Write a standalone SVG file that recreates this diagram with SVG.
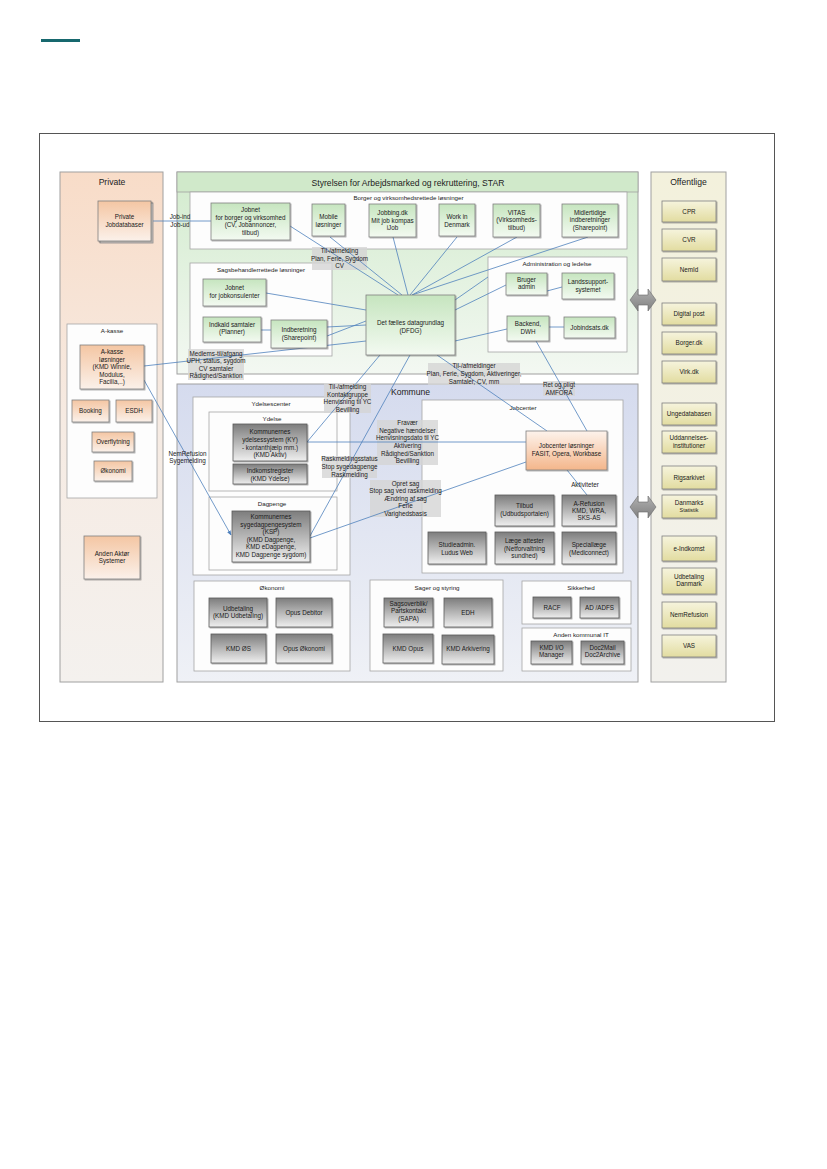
<svg xmlns="http://www.w3.org/2000/svg" width="827" height="1169" viewBox="0 0 827 1169">
<defs>
<linearGradient id="gGreen" x1="0" y1="0" x2="0" y2="1"><stop offset="0" stop-color="#c6e5bf"/><stop offset="1" stop-color="#f3faf1"/></linearGradient>
<linearGradient id="gPeach" x1="0" y1="0" x2="0" y2="1"><stop offset="0" stop-color="#f4c6a3"/><stop offset="1" stop-color="#fbf1ea"/></linearGradient>
<linearGradient id="gPeachR" x1="0" y1="0" x2="0" y2="1"><stop offset="0" stop-color="#fdf3ec"/><stop offset="1" stop-color="#f4b68b"/></linearGradient>
<linearGradient id="gGray" x1="0" y1="0" x2="0" y2="1"><stop offset="0" stop-color="#7d7d7d"/><stop offset="1" stop-color="#efefef"/></linearGradient>
<linearGradient id="gYellow" x1="0" y1="0" x2="0" y2="1"><stop offset="0" stop-color="#f6f4dd"/><stop offset="1" stop-color="#e2dca0"/></linearGradient>
<linearGradient id="gPriv" x1="0" y1="0" x2="0" y2="1"><stop offset="0" stop-color="#f8dcc8"/><stop offset="0.5" stop-color="#f6ebe3"/><stop offset="1" stop-color="#f4f1ee"/></linearGradient>
<linearGradient id="gStar" x1="0" y1="0" x2="0" y2="1"><stop offset="0" stop-color="#d2ebcd"/><stop offset="1" stop-color="#f3f8f2"/></linearGradient>
<linearGradient id="gKom" x1="0" y1="0" x2="0" y2="1"><stop offset="0" stop-color="#d5dbee"/><stop offset="1" stop-color="#eff1f6"/></linearGradient>
<linearGradient id="gOff" x1="0" y1="0" x2="0" y2="1"><stop offset="0" stop-color="#f3f1dc"/><stop offset="1" stop-color="#f2f1ed"/></linearGradient>
<linearGradient id="gArrow" x1="0" y1="0" x2="0" y2="1"><stop offset="0" stop-color="#b0b0b0"/><stop offset="1" stop-color="#808080"/></linearGradient>
<filter id="sh" x="-20%" y="-20%" width="140%" height="140%"><feDropShadow dx="1" dy="1" stdDeviation="0.6" flood-color="#000" flood-opacity="0.35"/></filter>
<marker id="arr" viewBox="0 0 10 10" refX="9" refY="5" markerWidth="6" markerHeight="6" orient="auto"><path d="M0,1 L10,5 L0,9 z" fill="#4f81bd"/></marker>
</defs>
<style>
text{font-family:"Liberation Sans",Arial,sans-serif;fill:#1a1a1a;}
.t{font-size:6.3px;text-anchor:middle;}
.g{font-size:6.2px;text-anchor:middle;fill:#222;}
.p{font-size:8.6px;text-anchor:middle;fill:#222;}
.l{font-size:6.3px;text-anchor:middle;fill:#222;}
.panel{stroke:#a0a0a0;stroke-width:1;}
.grp{fill:#fdfdfd;stroke:#a6a6a6;stroke-width:0.8;}
.ng{fill:url(#gGreen);stroke:#7f7f7f;stroke-width:0.8;filter:url(#sh);}
.np{fill:url(#gPeach);stroke:#7f7f7f;stroke-width:0.8;filter:url(#sh);}
.npr{fill:url(#gPeachR);stroke:#7f7f7f;stroke-width:0.8;filter:url(#sh);}
.nk{fill:url(#gGray);stroke:#5a5a5a;stroke-width:0.8;filter:url(#sh);}
.ny{fill:url(#gYellow);stroke:#7f7f7f;stroke-width:0.8;filter:url(#sh);}
.lb{fill:#d4d4d4;fill-opacity:0.8;}
.c{stroke:#4f81bd;stroke-width:0.8;fill:none;}
.ba{fill:url(#gArrow);stroke:#6a6a6a;stroke-width:0.6;}
</style>
<rect width="827" height="1169" fill="#ffffff"/>
<rect x="41" y="39" width="39" height="3" fill="#17686e"/>
<rect x="39.5" y="133.5" width="735" height="588" fill="#ffffff" stroke="#555555" stroke-width="1"/>

<!-- Panels -->
<g id="panel-private"><rect class="panel" x="60" y="172" width="103" height="510" fill="url(#gPriv)"/><text class="p" x="112" y="185">Private</text></g>
<g id="panel-star"><rect class="panel" x="177" y="172" width="461" height="202" fill="url(#gStar)"/><rect x="177" y="172" width="461" height="20" fill="#d0e9ca" stroke="#a0a0a0" stroke-width="0.8"/><text class="p" x="408" y="185.5">Styrelsen for Arbejdsmarked og rekruttering, STAR</text></g>
<g id="panel-kommune"><rect class="panel" x="177" y="384" width="461" height="298" fill="url(#gKom)"/><text class="p" x="410.5" y="395">Kommune</text></g>
<g id="panel-offentlige"><rect class="panel" x="651" y="172" width="75" height="510" fill="url(#gOff)"/><text class="p" x="688.5" y="185">Offentlige</text></g>

<!-- Group boxes -->
<g id="grp-borger"><rect class="grp" x="190" y="192" width="437" height="57"/><text class="g" x="408.5" y="200">Borger og virksomhedsrettede løsninger</text></g>
<g id="grp-sagsbeh"><rect class="grp" x="190" y="263" width="142" height="93"/><text class="g" x="261" y="272">Sagsbehandlerrettede løsninger</text></g>
<g id="grp-admin"><rect class="grp" x="488" y="257" width="139" height="95"/><text class="g" x="557" y="266">Administration og ledelse</text></g>
<g id="grp-akasse"><rect class="grp" x="67" y="324" width="90" height="174"/><text class="g" x="112" y="333">A-kasse</text></g>
<g id="grp-ydelsescenter"><rect class="grp" x="193" y="397" width="157" height="178"/><text class="g" x="271" y="406">Ydelsescenter</text></g>
<g id="grp-ydelse"><rect class="grp" x="209" y="412" width="128" height="79"/><text class="g" x="272" y="421">Ydelse</text></g>
<g id="grp-dagpenge"><rect class="grp" x="209" y="497" width="128" height="73"/><text class="g" x="272" y="506">Dagpenge</text></g>
<g id="grp-jobcenter"><rect class="grp" x="422" y="400" width="201" height="173"/><text class="g" x="523" y="410">Jobcenter</text></g>
<g id="grp-okonomi"><rect class="grp" x="194" y="581" width="156" height="90"/><text class="g" x="272" y="590">Økonomi</text></g>
<g id="grp-sager"><rect class="grp" x="370" y="580" width="133" height="91"/><text class="g" x="437" y="590">Sager og styring</text></g>
<g id="grp-sikkerhed"><rect class="grp" x="522" y="581" width="109" height="43"/><text class="g" x="581" y="590">Sikkerhed</text></g>
<g id="grp-andenit"><rect class="grp" x="522" y="628" width="109" height="43"/><text class="g" x="581" y="637">Anden kommunal IT</text></g>

<!-- Label backgrounds -->
<g id="label-boxes">
<rect class="lb" x="312" y="247" width="55" height="23"/>
<rect class="lb" x="188" y="349" width="56" height="31"/>
<rect class="lb" x="428" y="363" width="92" height="22"/>
<rect class="lb" x="324" y="383" width="47" height="30"/>
<rect class="lb" x="377" y="420" width="61" height="45"/>
<rect class="lb" x="322" y="456" width="55" height="22"/>
<rect class="lb" x="370" y="480" width="71" height="37"/>
<rect class="lb" x="543" y="381" width="32" height="15"/>
</g>

<!-- Connectors -->
<g id="connectors">
<line class="c" x1="151" y1="221" x2="211" y2="221"/>
<line class="c" x1="290" y1="226" x2="398" y2="295"/>
<line class="c" x1="330" y1="237" x2="402" y2="295"/>
<line class="c" x1="393" y1="237" x2="408" y2="295"/>
<line class="c" x1="457" y1="237" x2="410" y2="295"/>
<line class="c" x1="517" y1="237" x2="412" y2="295"/>
<line class="c" x1="588" y1="237" x2="412" y2="295"/>
<line class="c" x1="488" y1="277" x2="455" y2="300"/>
<line class="c" x1="506" y1="285" x2="455" y2="310"/>
<line class="c" x1="507" y1="329" x2="455" y2="341"/>
<line class="c" x1="547" y1="291" x2="562" y2="287"/>
<line class="c" x1="549" y1="327" x2="564" y2="327"/>
<line class="c" x1="536" y1="341" x2="587" y2="431"/>
<line class="c" x1="266" y1="293" x2="366" y2="310"/>
<line class="c" x1="261" y1="330" x2="271" y2="330"/>
<line class="c" x1="327" y1="327" x2="366" y2="325"/>
<line class="c" x1="327" y1="336" x2="366" y2="321"/>
<line class="c" x1="144" y1="366" x2="366" y2="341"/>
<line class="c" x1="144" y1="380" x2="231" y2="535" marker-end="url(#arr)"/>
<line class="c" x1="380" y1="355" x2="307" y2="442"/>
<line class="c" x1="410" y1="355" x2="310" y2="536"/>
<line class="c" x1="437" y1="355" x2="547" y2="431"/>
<line class="c" x1="307" y1="442" x2="526" y2="442"/>
<line class="c" x1="310" y1="538" x2="526" y2="462"/>
<line class="c" x1="567" y1="470" x2="587" y2="495"/>
</g>

<!-- Block arrows -->
<g id="arrow-star-offentlige"><polygon class="ba" points="630,300 638,289 638,295 648,295 648,289 656,300 648,311 648,305 638,305 638,311"/></g>
<g id="arrow-kommune-offentlige"><polygon class="ba" points="630,507 638,496 638,502 648,502 648,496 656,507 648,518 648,512 638,512 638,518"/></g>

<!-- STAR nodes -->
<g id="n-jobnet-borger"><rect class="ng" x="211" y="203" width="79" height="37"/><text class="t" x="250.5" y="212">Jobnet</text><text class="t" x="250.5" y="219.6">for borger og virksomhed</text><text class="t" x="250.5" y="227.4">(CV, Jobannoncer,</text><text class="t" x="250.5" y="235">tilbud)</text></g>
<g id="n-mobile"><rect class="ng" x="312" y="204" width="33" height="32"/><text class="t" x="328.5" y="219">Mobile</text><text class="t" x="328.5" y="226.5">løsninger</text></g>
<g id="n-jobbing"><rect class="ng" x="369" y="204" width="47" height="33"/><text class="t" x="392.5" y="215">Jobbing.dk</text><text class="t" x="392.5" y="222.7">Mit job kompas</text><text class="t" x="392.5" y="230.4">iJob</text></g>
<g id="n-workindk"><rect class="ng" x="439" y="204" width="36" height="32"/><text class="t" x="457" y="219">Work in</text><text class="t" x="457" y="226.5">Denmark</text></g>
<g id="n-vitas"><rect class="ng" x="493" y="204" width="47" height="33"/><text class="t" x="516.5" y="214.6">VITAS</text><text class="t" x="516.5" y="222.3">(Virksomheds-</text><text class="t" x="516.5" y="230">tilbud)</text></g>
<g id="n-midlertidige"><rect class="ng" x="562" y="204" width="56" height="33"/><text class="t" x="590" y="214.6">Midlertidige</text><text class="t" x="590" y="222.3">indberetninger</text><text class="t" x="590" y="230">(Sharepoint)</text></g>
<g id="n-jobnet-konsulent"><rect class="ng" x="203" y="279" width="63" height="27"/><text class="t" x="234.5" y="290">Jobnet</text><text class="t" x="234.5" y="297.5">for jobkonsulenter</text></g>
<g id="n-indkald"><rect class="ng" x="203" y="317" width="58" height="25"/><text class="t" x="232" y="326.7">Indkald samtaler</text><text class="t" x="232" y="334.4">(Planner)</text></g>
<g id="n-indberetning"><rect class="ng" x="271" y="320" width="56" height="28"/><text class="t" x="299" y="332.3">Indberetning</text><text class="t" x="299" y="339.8">(Sharepoint)</text></g>
<g id="n-dfdg"><rect class="ng" x="366" y="295" width="89" height="60"/><text class="t" x="410.5" y="325">Det fælles datagrundlag</text><text class="t" x="410.5" y="332.6">(DFDG)</text></g>
<g id="n-bruger"><rect class="ng" x="506" y="273" width="41" height="22"/><text class="t" x="526.5" y="281.5">Bruger</text><text class="t" x="526.5" y="289">admin</text></g>
<g id="n-landssupport"><rect class="ng" x="562" y="273" width="52" height="26"/><text class="t" x="588" y="284">Landssupport-</text><text class="t" x="588" y="291.6">systemet</text></g>
<g id="n-backend"><rect class="ng" x="507" y="316" width="42" height="25"/><text class="t" x="528" y="326.3">Backend,</text><text class="t" x="528" y="334">DWH</text></g>
<g id="n-jobindsats"><rect class="ng" x="564" y="317" width="51" height="21"/><text class="t" x="589.5" y="329.5">Jobindsats.dk</text></g>

<!-- Private nodes -->
<g id="n-private-jobdb"><rect x="100" y="203" width="53" height="40" fill="#f3ece6" stroke="#8a8a8a" stroke-width="0.8"/><rect class="np" x="98" y="201" width="53" height="40"/><text class="t" x="124.5" y="219">Private</text><text class="t" x="124.5" y="226.5">Jobdatabaser</text></g>
<g id="n-akasse-losninger"><rect class="np" x="80" y="345" width="64" height="44"/><text class="t" x="112" y="354">A-kasse</text><text class="t" x="112" y="361.6">løsninger</text><text class="t" x="112" y="369.2">(KMD Winnie,</text><text class="t" x="112" y="376.8">Modulus,</text><text class="t" x="112" y="384.4">Facilia,..)</text></g>
<g id="n-booking"><rect class="np" x="72" y="400" width="37" height="22"/><text class="t" x="90.5" y="413.3">Booking</text></g>
<g id="n-esdh"><rect class="np" x="116" y="400" width="36" height="22"/><text class="t" x="134" y="413.3">ESDH</text></g>
<g id="n-overflytning"><rect class="np" x="92" y="432" width="42" height="20"/><text class="t" x="113" y="444.2">Overflytning</text></g>
<g id="n-akasse-okonomi"><rect class="np" x="94" y="461" width="38" height="20"/><text class="t" x="113" y="473.2">Økonomi</text></g>
<g id="n-anden-aktor"><rect class="np" x="84" y="536" width="56" height="43"/><text class="t" x="112" y="555.6">Anden Aktør</text><text class="t" x="112" y="563.2">Systemer</text></g>

<!-- Kommune nodes -->
<g id="n-ky"><rect class="nk" x="233" y="424" width="74" height="37"/><text class="t" x="270" y="434">Kommunernes</text><text class="t" x="270" y="441.7">ydelsessystem (KY)</text><text class="t" x="270" y="449.5">- kontanthjælp mm.)</text><text class="t" x="270" y="457.2">(KMD Aktiv)</text></g>
<g id="n-indkomst"><rect class="nk" x="233" y="464" width="74" height="20"/><text class="t" x="270" y="473">Indkomstregister</text><text class="t" x="270" y="480.7">(KMD Ydelse)</text></g>
<g id="n-ksp"><rect class="nk" x="232" y="511" width="78" height="51"/><text class="t" x="271" y="519">Kommunernes</text><text class="t" x="271" y="526.5">sygedagpengesystem</text><text class="t" x="271" y="534">(KSP)</text><text class="t" x="271" y="541.5">(KMD Dagpenge,</text><text class="t" x="271" y="549">KMD eDagpenge,</text><text class="t" x="271" y="556.5">KMD Dagpenge sygdom)</text></g>
<g id="n-jobcenter-losninger"><rect class="npr" x="526" y="431" width="81" height="39"/><text class="t" x="566.5" y="448.3">Jobcenter løsninger</text><text class="t" x="566.5" y="456.2">FASIT, Opera, Workbase</text></g>
<g id="n-tilbud"><rect class="nk" x="495" y="495" width="59" height="31"/><text class="t" x="524.5" y="508.3">Tilbud</text><text class="t" x="524.5" y="515.8">(Udbudsportalen)</text></g>
<g id="n-arefusion"><rect class="nk" x="562" y="495" width="54" height="31"/><text class="t" x="589" y="505.6">A-Refusion</text><text class="t" x="589" y="513">KMD, WRA,</text><text class="t" x="589" y="520.4">SKS-AS</text></g>
<g id="n-studieadmin"><rect class="nk" x="428" y="532" width="58" height="32"/><text class="t" x="457" y="547.3">Studieadmin.</text><text class="t" x="457" y="555">Ludus Web</text></g>
<g id="n-laege"><rect class="nk" x="495" y="532" width="59" height="32"/><text class="t" x="524.5" y="543">Læge attester</text><text class="t" x="524.5" y="550.6">(Netforvaltning</text><text class="t" x="524.5" y="558.2">sundhed)</text></g>
<g id="n-speciallaege"><rect class="nk" x="562" y="532" width="54" height="32"/><text class="t" x="589" y="547.3">Speciallæge</text><text class="t" x="589" y="555">(Mediconnect)</text></g>
<g id="n-udbetaling"><rect class="nk" x="209" y="598" width="58" height="29"/><text class="t" x="238" y="610.6">Udbetaling</text><text class="t" x="238" y="618.2">(KMD Udbetaling)</text></g>
<g id="n-opus-debitor"><rect class="nk" x="276" y="598" width="56" height="29"/><text class="t" x="304" y="615">Opus Debitor</text></g>
<g id="n-kmd-os"><rect class="nk" x="211" y="634" width="55" height="29"/><text class="t" x="238.5" y="650.5">KMD ØS</text></g>
<g id="n-opus-okonomi"><rect class="nk" x="276" y="634" width="56" height="29"/><text class="t" x="304" y="650.5">Opus Økonomi</text></g>
<g id="n-sapa"><rect class="nk" x="384" y="598" width="49" height="29"/><text class="t" x="408.5" y="605.8">Sagsoverblik/</text><text class="t" x="408.5" y="613.4">Partskontakt</text><text class="t" x="408.5" y="621">(SAPA)</text></g>
<g id="n-edh"><rect class="nk" x="444" y="598" width="48" height="29"/><text class="t" x="468" y="615">EDH</text></g>
<g id="n-kmd-opus"><rect class="nk" x="383" y="634" width="50" height="29"/><text class="t" x="408" y="650.8">KMD Opus</text></g>
<g id="n-kmd-arkivering"><rect class="nk" x="442" y="635" width="52" height="29"/><text class="t" x="468" y="651.3">KMD Arkivering</text></g>
<g id="n-racf"><rect class="nk" x="533" y="597" width="38" height="21"/><text class="t" x="552" y="610">RACF</text></g>
<g id="n-adfs"><rect class="nk" x="580" y="597" width="39" height="21"/><text class="t" x="599.5" y="610">AD /ADFS</text></g>
<g id="n-kmd-io"><rect class="nk" x="531" y="641" width="41" height="23"/><text class="t" x="551.5" y="649.8">KMD I/O</text><text class="t" x="551.5" y="657.4">Manager</text></g>
<g id="n-doc2"><rect class="nk" x="581" y="641" width="43" height="23"/><text class="t" x="602.5" y="649.8">Doc2Mail</text><text class="t" x="602.5" y="657.4">Doc2Archive</text></g>

<!-- Offentlige nodes -->
<g id="n-cpr"><rect class="ny" x="662" y="201" width="54" height="21"/><text class="t" x="689" y="213.8">CPR</text></g>
<g id="n-cvr"><rect class="ny" x="662" y="229" width="54" height="22"/><text class="t" x="689" y="242.2">CVR</text></g>
<g id="n-nemid"><rect class="ny" x="662" y="258" width="54" height="23"/><text class="t" x="689" y="271.8">NemId</text></g>
<g id="n-digitalpost"><rect class="ny" x="662" y="303" width="54" height="22"/><text class="t" x="689" y="316.3">Digital post</text></g>
<g id="n-borgerdk"><rect class="ny" x="662" y="332" width="54" height="22"/><text class="t" x="689" y="345.3">Borger.dk</text></g>
<g id="n-virkdk"><rect class="ny" x="662" y="361" width="54" height="22"/><text class="t" x="689" y="374.3">Virk.dk</text></g>
<g id="n-ungedatabasen"><rect class="ny" x="662" y="403" width="54" height="22"/><text class="t" x="689" y="416.3">Ungedatabasen</text></g>
<g id="n-uddannelse"><rect class="ny" x="662" y="431" width="54" height="22"/><text class="t" x="689" y="440.3">Uddannelses-</text><text class="t" x="689" y="447.8">institutioner</text></g>
<g id="n-rigsarkivet"><rect class="ny" x="662" y="466" width="54" height="23"/><text class="t" x="689" y="479.8">Rigsarkivet</text></g>
<g id="n-dst"><rect class="ny" x="662" y="495" width="54" height="23"/><text class="t" x="689" y="504.6">Danmarks</text><text class="t" x="689" y="511.8" style="font-size:5.4px">Statistik</text></g>
<g id="n-eindkomst"><rect class="ny" x="662" y="536" width="54" height="25"/><text class="t" x="689" y="550.8">e-Indkomst</text></g>
<g id="n-udbetaling-dk"><rect class="ny" x="662" y="568" width="54" height="26"/><text class="t" x="689" y="578.6">Udbetaling</text><text class="t" x="689" y="586.2">Danmark</text></g>
<g id="n-nemrefusion"><rect class="ny" x="662" y="602" width="54" height="26"/><text class="t" x="689" y="617.3">NemRefusion</text></g>
<g id="n-vas"><rect class="ny" x="662" y="635" width="54" height="22"/><text class="t" x="689" y="648.3">VAS</text></g>

<!-- Connector labels -->
<g id="labels">
<text class="l" x="180" y="219">Job-ind</text><text class="l" x="180" y="226.6">Job-ud</text>
<text class="l" x="339.5" y="253">Til-/afmelding</text><text class="l" x="339.5" y="260.6">Plan, Ferie, Sygdom</text><text class="l" x="339.5" y="268.2">CV</text>
<text class="l" x="216" y="355.6">Medlems-til/afgang</text><text class="l" x="216" y="363.1">UPH, status, sygdom</text><text class="l" x="216" y="370.6">CV samtaler</text><text class="l" x="216" y="378.1">Rådighed/Sanktion</text>
<text class="l" x="474" y="368.3">Til-/afmeldinger</text><text class="l" x="474" y="376">Plan, Ferie, Sygdom, Aktiveringer,</text><text class="l" x="474" y="383.7">Samtaler, CV, mm</text>
<text class="l" x="347.5" y="389">Til-/afmelding</text><text class="l" x="347.5" y="396.6">Kontaktgruppe</text><text class="l" x="347.5" y="404.2">Henvisning til YC</text><text class="l" x="347.5" y="411.8">Bevilling</text>
<text class="l" x="407.5" y="425">Fravær</text><text class="l" x="407.5" y="432.6">Negative hændelser</text><text class="l" x="407.5" y="440.4">Henvisningsdato til YC</text><text class="l" x="407.5" y="448.1">Aktivering</text><text class="l" x="407.5" y="455.7">Rådighed/Sanktion</text><text class="l" x="407.5" y="463.3">Bevilling</text>
<text class="l" x="349.5" y="461.3">Raskmeldingsstatus</text><text class="l" x="349.5" y="469">Stop sygedagpenge</text><text class="l" x="349.5" y="476.6">Raskmelding</text>
<text class="l" x="405.5" y="485.6">Opret sag</text><text class="l" x="405.5" y="493.1">Stop sag ved raskmelding</text><text class="l" x="405.5" y="500.6">Ændring af sag</text><text class="l" x="405.5" y="508.1">Ferie</text><text class="l" x="405.5" y="515.6">Varighedsbasis</text>
<text class="l" x="559" y="387">Ret og pligt</text><text class="l" x="559" y="394.6">AMFORA</text>
<text class="l" x="187.5" y="455.6">NemRefusion</text><text class="l" x="187.5" y="463.3">Sygemelding</text>
<text class="l" x="585" y="486.8">Aktiviteter</text>
</g>
</svg>
